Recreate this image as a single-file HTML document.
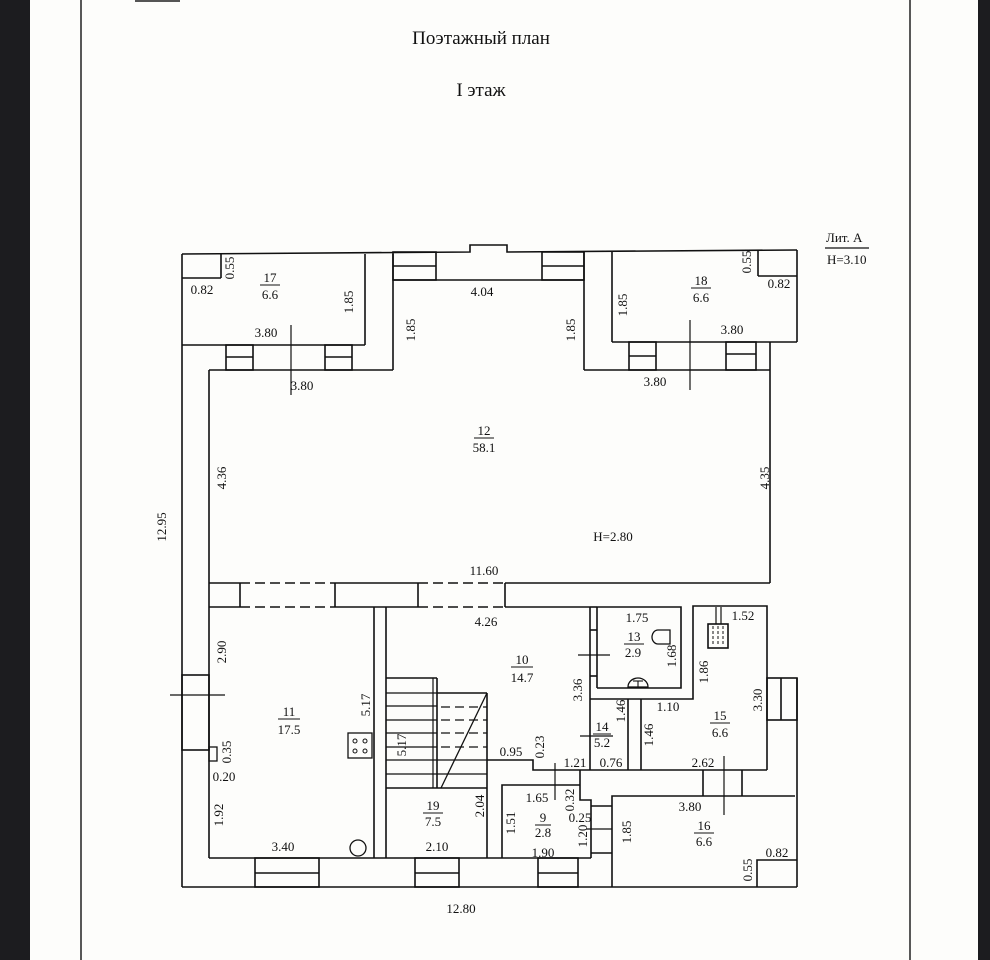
<!DOCTYPE html>
<html><head><meta charset="utf-8"><style>
html,body{margin:0;padding:0;background:#fff;}
svg{display:block;}
text{font-family:"Liberation Serif",serif;font-size:13px;fill:#111;}
</style></head><body>
<svg width="990" height="960" viewBox="0 0 990 960" xmlns="http://www.w3.org/2000/svg">
<rect width="990" height="960" fill="#fdfdfb"/>
<rect x="0" y="0" width="30" height="960" fill="#1c1c1f"/>
<rect x="978" y="0" width="12" height="960" fill="#1c1c1f"/>
<line x1="81" y1="0" x2="81" y2="960" stroke="#222" stroke-width="1.5"/>
<line x1="910" y1="0" x2="910" y2="960" stroke="#222" stroke-width="1.5"/>
<rect x="135" y="0" width="45" height="2" fill="#555"/>

<text x="481" y="44" text-anchor="middle" style="font-size:19px">Поэтажный план</text>
<text x="481" y="96" text-anchor="middle" style="font-size:19px">I этаж</text>
<text x="826" y="242" style="font-size:13px">Лит. A</text>
<line x1="825" y1="248" x2="869" y2="248" stroke="#111" stroke-width="1.2"/>
<text x="827" y="264" style="font-size:13px">H=3.10</text>

<g stroke="#111" stroke-width="1.6" fill="none">
<polyline points="182,254 470,252 470,245 507,245 507,252 797,250"/>
<line x1="182" y1="254" x2="182" y2="887"/>
<line x1="797" y1="250" x2="797" y2="342"/>
<!-- room 17 -->
<line x1="182" y1="278" x2="221" y2="278"/><line x1="221" y1="278" x2="221" y2="254"/>
<line x1="365" y1="254" x2="365" y2="345"/>
<line x1="182" y1="345" x2="365" y2="345"/>
<line x1="393" y1="254" x2="393" y2="370"/>
<line x1="209" y1="370" x2="393" y2="370"/>
<rect x="226" y="345" width="27" height="25"/><line x1="226" y1="357" x2="253" y2="357"/>
<rect x="325" y="345" width="27" height="25"/><line x1="325" y1="357" x2="352" y2="357"/>
<line x1="291" y1="325" x2="291" y2="395" stroke-width="1.2"/>
<!-- corridor -->
<line x1="393" y1="280" x2="584" y2="280"/>
<rect x="393" y="252" width="43" height="28"/><line x1="393" y1="266" x2="436" y2="266"/>
<rect x="542" y="252" width="42" height="28"/><line x1="542" y1="266" x2="584" y2="266"/>
<line x1="584" y1="252" x2="584" y2="370"/>
<!-- room 18 -->
<line x1="612" y1="252" x2="612" y2="342"/>
<line x1="612" y1="342" x2="797" y2="342"/>
<line x1="758" y1="250" x2="758" y2="276"/><line x1="758" y1="276" x2="797" y2="276"/>
<line x1="584" y1="370" x2="770" y2="370"/>
<line x1="770" y1="342" x2="770" y2="370"/>
<rect x="629" y="342" width="27" height="28"/><line x1="629" y1="356" x2="656" y2="356"/>
<rect x="726" y="342" width="30" height="28"/><line x1="726" y1="354" x2="756" y2="354"/>
<line x1="690" y1="320" x2="690" y2="390" stroke-width="1.2"/>
<!-- room 12 -->
<line x1="209" y1="370" x2="209" y2="858"/>
<line x1="770" y1="370" x2="770" y2="583"/>
<line x1="209" y1="583" x2="240" y2="583"/><line x1="335" y1="583" x2="418" y2="583"/><line x1="505" y1="583" x2="770" y2="583"/>
<line x1="209" y1="607" x2="240" y2="607"/><line x1="335" y1="607" x2="418" y2="607"/><line x1="505" y1="607" x2="590" y2="607"/>
<line x1="240" y1="583" x2="335" y2="583" stroke-dasharray="10,5"/><line x1="240" y1="607" x2="335" y2="607" stroke-dasharray="10,5"/>
<line x1="418" y1="583" x2="505" y2="583" stroke-dasharray="10,5"/><line x1="418" y1="607" x2="505" y2="607" stroke-dasharray="10,5"/>
<line x1="240" y1="583" x2="240" y2="607"/><line x1="335" y1="583" x2="335" y2="607"/><line x1="418" y1="583" x2="418" y2="607"/><line x1="505" y1="583" x2="505" y2="607"/>
<line x1="797" y1="678" x2="797" y2="887"/>
<rect x="767" y="678" width="30" height="42"/><line x1="781" y1="678" x2="781" y2="720"/>
<rect x="182" y="675" width="27" height="75"/><line x1="170" y1="695" x2="225" y2="695" stroke-width="1.2"/>
<line x1="182" y1="887" x2="797" y2="887"/>
<line x1="209" y1="858" x2="591" y2="858"/>
<rect x="255" y="858" width="64" height="29"/><line x1="255" y1="873" x2="319" y2="873"/>
<rect x="415" y="858" width="44" height="29"/><line x1="415" y1="873" x2="459" y2="873"/>
<rect x="538" y="858" width="40" height="29"/><line x1="538" y1="873" x2="578" y2="873"/>
<line x1="374" y1="607" x2="374" y2="858"/><line x1="386" y1="607" x2="386" y2="858"/>
<line x1="386" y1="678" x2="437" y2="678"/><line x1="437" y1="678" x2="437" y2="788"/>
<line x1="437" y1="693" x2="487" y2="693"/><line x1="487" y1="693" x2="487" y2="858"/>
<line x1="386" y1="788" x2="487" y2="788"/>
<g stroke-width="1.3">
<line x1="386" y1="693" x2="437" y2="693"/><line x1="386" y1="706" x2="437" y2="706"/><line x1="386" y1="720" x2="437" y2="720"/><line x1="386" y1="733" x2="437" y2="733"/><line x1="386" y1="747" x2="437" y2="747"/><line x1="386" y1="760" x2="437" y2="760"/><line x1="386" y1="774" x2="437" y2="774"/>
<line x1="441" y1="707" x2="487" y2="707" stroke-dasharray="9,5"/><line x1="441" y1="720" x2="487" y2="720" stroke-dasharray="9,5"/><line x1="441" y1="733" x2="487" y2="733" stroke-dasharray="9,5"/><line x1="441" y1="747" x2="487" y2="747" stroke-dasharray="9,5"/>
<line x1="437" y1="760" x2="487" y2="760"/><line x1="437" y1="774" x2="487" y2="774"/>
<line x1="441" y1="788" x2="487" y2="693"/>
</g>
<line x1="433" y1="678" x2="433" y2="788" stroke-width="1.2"/>
<polyline points="487,760 533,760 533,770 767,770"/>
<polyline points="580,770 580,800 591,800 591,858"/>
<polyline points="502,858 502,785 580,785"/>
<line x1="591" y1="806" x2="612" y2="806"/><line x1="591" y1="853" x2="612" y2="853"/>
<line x1="586" y1="829" x2="612" y2="829" stroke-width="1.2"/>
<line x1="555" y1="763" x2="555" y2="800" stroke-width="1.2"/>
<polyline points="612,887 612,796 795,796"/>
<line x1="703" y1="770" x2="703" y2="796"/><line x1="742" y1="770" x2="742" y2="796"/>
<line x1="724" y1="756" x2="724" y2="815" stroke-width="1.2"/>
<polyline points="757,887 757,860 797,860"/>
<line x1="590" y1="607" x2="590" y2="770"/>
<line x1="597" y1="607" x2="597" y2="688"/><line x1="590" y1="607" x2="597" y2="607"/>
<line x1="590" y1="630" x2="597" y2="630"/><line x1="590" y1="676" x2="597" y2="676"/>
<polyline points="597,607 681,607 681,688 597,688"/>
<polyline points="590,699 693,699 693,606 767,606 767,770"/>
<line x1="578" y1="655" x2="610" y2="655" stroke-width="1.2"/>
<line x1="628" y1="699" x2="628" y2="770"/><line x1="641" y1="699" x2="641" y2="770"/>
<line x1="580" y1="736" x2="613" y2="736" stroke-width="1.2"/>
<path d="M658,630 h12 v14 h-12 a6,7 0 0 1 0,-14z" stroke-width="1.3"/>
<path d="M628,687 a10,9 0 0 1 20,0 z" stroke-width="1.3"/><line x1="633" y1="681" x2="643" y2="681" stroke-width="1.1"/><line x1="638" y1="681" x2="638" y2="687" stroke-width="1.1"/>
<rect x="708" y="624" width="20" height="24" stroke-width="1.6"/>
<line x1="713" y1="626" x2="713" y2="646" stroke-width="1" stroke-dasharray="3,2"/><line x1="718" y1="626" x2="718" y2="646" stroke-width="1" stroke-dasharray="3,2"/><line x1="723" y1="626" x2="723" y2="646" stroke-width="1" stroke-dasharray="3,2"/>
<line x1="716" y1="607" x2="716" y2="624" stroke-width="1.2"/><line x1="721" y1="607" x2="721" y2="624" stroke-width="1.2"/>
<rect x="348" y="733" width="24" height="25" stroke-width="1.3"/>
<circle cx="355" cy="741" r="2" stroke-width="1"/><circle cx="365" cy="741" r="2" stroke-width="1"/><circle cx="355" cy="751" r="2" stroke-width="1"/><circle cx="365" cy="751" r="2" stroke-width="1"/>
<rect x="209" y="747" width="8" height="14" stroke-width="1.3"/>
<circle cx="358" cy="848" r="8" stroke-width="1.3"/>
</g>

<g>
<text x="270" y="282" text-anchor="middle">17</text><line x1="260" y1="285" x2="280" y2="285" stroke="#111"/><text x="270" y="299" text-anchor="middle">6.6</text>
<text x="202" y="294" text-anchor="middle">0.82</text>
<text transform="translate(234,268) rotate(-90)" text-anchor="middle">0.55</text>
<text transform="translate(353,302) rotate(-90)" text-anchor="middle">1.85</text>
<text x="266" y="337" text-anchor="middle">3.80</text>
<text x="302" y="390" text-anchor="middle">3.80</text>
<text x="482" y="296" text-anchor="middle">4.04</text>
<text transform="translate(415,330) rotate(-90)" text-anchor="middle">1.85</text>
<text transform="translate(575,330) rotate(-90)" text-anchor="middle">1.85</text>
<text x="701" y="285" text-anchor="middle">18</text><line x1="691" y1="288" x2="711" y2="288" stroke="#111"/><text x="701" y="302" text-anchor="middle">6.6</text>
<text transform="translate(751,262) rotate(-90)" text-anchor="middle">0.55</text>
<text x="779" y="288" text-anchor="middle">0.82</text>
<text transform="translate(627,305) rotate(-90)" text-anchor="middle">1.85</text>
<text x="732" y="334" text-anchor="middle">3.80</text>
<text x="655" y="386" text-anchor="middle">3.80</text>
<text x="484" y="435" text-anchor="middle">12</text><line x1="474" y1="438" x2="494" y2="438" stroke="#111"/><text x="484" y="452" text-anchor="middle">58.1</text>
<text transform="translate(226,478) rotate(-90)" text-anchor="middle">4.36</text>
<text transform="translate(769,478) rotate(-90)" text-anchor="middle">4.35</text>
<text x="613" y="541" text-anchor="middle">H=2.80</text>
<text x="484" y="575" text-anchor="middle">11.60</text>
<text transform="translate(166,527) rotate(-90)" text-anchor="middle">12.95</text>
<text x="486" y="626" text-anchor="middle">4.26</text>
<text x="522" y="664" text-anchor="middle">10</text><line x1="511" y1="667" x2="533" y2="667" stroke="#111"/><text x="522" y="682" text-anchor="middle">14.7</text>
<text transform="translate(226,652) rotate(-90)" text-anchor="middle">2.90</text>
<text transform="translate(370,705) rotate(-90)" text-anchor="middle">5.17</text>
<text x="289" y="716" text-anchor="middle">11</text><line x1="278" y1="719" x2="300" y2="719" stroke="#111"/><text x="289" y="734" text-anchor="middle">17.5</text>
<text transform="translate(582,690) rotate(-90)" text-anchor="middle">3.36</text>
<text x="634" y="641" text-anchor="middle">13</text><line x1="624" y1="644" x2="644" y2="644" stroke="#111"/><text x="633" y="657" text-anchor="middle">2.9</text>
<text x="637" y="622" text-anchor="middle">1.75</text>
<text transform="translate(676,656) rotate(-90)" text-anchor="middle">1.68</text>
<text transform="translate(708,672) rotate(-90)" text-anchor="middle">1.86</text>
<text x="743" y="620" text-anchor="middle">1.52</text>
<text transform="translate(762,700) rotate(-90)" text-anchor="middle">3.30</text>
<text x="720" y="720" text-anchor="middle">15</text><line x1="710" y1="723" x2="730" y2="723" stroke="#111"/><text x="720" y="737" text-anchor="middle">6.6</text>
<text x="668" y="711" text-anchor="middle">1.10</text>
<text transform="translate(625,711) rotate(-90)" text-anchor="middle">1.46</text>
<text transform="translate(653,735) rotate(-90)" text-anchor="middle">1.46</text>
<text x="602" y="731" text-anchor="middle">14</text><line x1="593" y1="734" x2="611" y2="734" stroke="#111"/><text x="602" y="747" text-anchor="middle">5.2</text>
<text x="511" y="756" text-anchor="middle">0.95</text>
<text transform="translate(544,747) rotate(-90)" text-anchor="middle">0.23</text>
<text x="575" y="767" text-anchor="middle">1.21</text>
<text x="611" y="767" text-anchor="middle">0.76</text>
<text x="703" y="767" text-anchor="middle">2.62</text>
<text transform="translate(231,752) rotate(-90)" text-anchor="middle">0.35</text>
<text x="224" y="781" text-anchor="middle">0.20</text>
<text transform="translate(406,745) rotate(-90)" text-anchor="middle">5.17</text>
<text x="537" y="802" text-anchor="middle">1.65</text>
<text transform="translate(574,800) rotate(-90)" text-anchor="middle">0.32</text>
<text x="580" y="822" text-anchor="middle">0.25</text>
<text x="690" y="811" text-anchor="middle">3.80</text>
<text x="433" y="810" text-anchor="middle">19</text><line x1="423" y1="813" x2="443" y2="813" stroke="#111"/><text x="433" y="826" text-anchor="middle">7.5</text>
<text transform="translate(484,806) rotate(-90)" text-anchor="middle">2.04</text>
<text transform="translate(515,823) rotate(-90)" text-anchor="middle">1.51</text>
<text x="543" y="822" text-anchor="middle">9</text><line x1="535" y1="825" x2="551" y2="825" stroke="#111"/><text x="543" y="837" text-anchor="middle">2.8</text>
<text transform="translate(631,832) rotate(-90)" text-anchor="middle">1.85</text>
<text x="704" y="830" text-anchor="middle">16</text><line x1="694" y1="833" x2="714" y2="833" stroke="#111"/><text x="704" y="846" text-anchor="middle">6.6</text>
<text transform="translate(587,836) rotate(-90)" text-anchor="middle">1.20</text>
<text transform="translate(223,815) rotate(-90)" text-anchor="middle">1.92</text>
<text x="283" y="851" text-anchor="middle">3.40</text>
<text x="437" y="851" text-anchor="middle">2.10</text>
<text x="543" y="857" text-anchor="middle">1.90</text>
<text transform="translate(752,870) rotate(-90)" text-anchor="middle">0.55</text>
<text x="777" y="857" text-anchor="middle">0.82</text>
<text x="461" y="913" text-anchor="middle">12.80</text>
</g>
</svg>
</body></html>
